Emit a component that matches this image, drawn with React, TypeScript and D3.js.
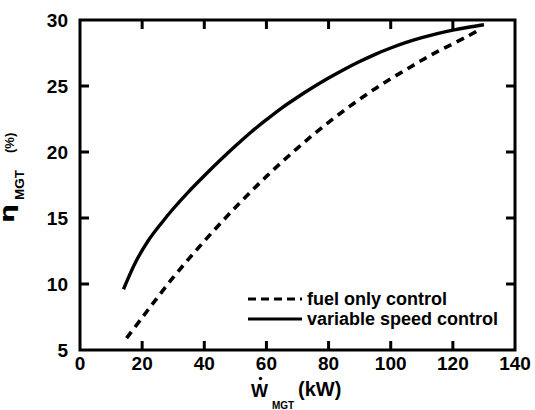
import React from "react";
import * as d3 from "d3";

const xTicks = [0, 20, 40, 60, 80, 100, 120, 140];
const yTicks = [5, 10, 15, 20, 25, 30];

const fuelX = [15, 20, 25, 30, 35, 40, 45, 50, 55, 60, 65, 70, 75, 80, 85, 90, 95, 100, 105, 110, 115, 120, 125, 128];
const fuelY = [5.9, 7.45, 9.0, 10.5, 11.9, 13.25, 14.55, 15.8, 17.0, 18.15, 19.25, 20.3, 21.3, 22.25, 23.15, 24.0, 24.8, 25.55, 26.25, 26.95, 27.6, 28.2, 28.8, 29.2];

const speedX = [14, 18, 22, 26, 30, 35, 40, 45, 50, 55, 60, 65, 70, 75, 80, 85, 90, 95, 100, 105, 110, 115, 120, 125, 130];
const speedY = [9.6, 11.7, 13.3, 14.55, 15.7, 17.0, 18.2, 19.35, 20.45, 21.5, 22.45, 23.35, 24.15, 24.9, 25.6, 26.25, 26.85, 27.4, 27.88, 28.3, 28.66, 28.97, 29.23, 29.45, 29.64];

const legendLabels = ["fuel only control", "variable speed control"];

const W = 535, H = 410;
const L = 80, R = 515, T = 20, B = 350;

export default function App() {
  const x = d3.scaleLinear().domain([0, 140]).range([L, R]);
  const y = d3.scaleLinear().domain([5, 30]).range([B, T]);
  const line = d3
    .line<[number, number]>()
    .x((d) => x(d[0]))
    .y((d) => y(d[1]))
    .curve(d3.curveCatmullRom);
  const fuel = fuelX.map((v, i) => [v, fuelY[i]] as [number, number]);
  const speed = speedX.map((v, i) => [v, speedY[i]] as [number, number]);
  const tl = 9;
  const font = "'Liberation Sans', Arial, sans-serif";
  return (
    <svg
      width={W}
      height={H}
      style={{ position: "absolute", left: 0, top: 0, background: "#fff" }}
      fontFamily={font}
    >
      <rect x={0} y={0} width={W} height={H} fill="#fff" />
      {/* curves */}
      <path d={line(speed) || ""} fill="none" stroke="#000" strokeWidth={3.4} />
      <path
        d={line(fuel) || ""}
        fill="none"
        stroke="#000"
        strokeWidth={3.6}
        strokeDasharray="8,6"
      />
      {/* frame */}
      <rect x={L} y={T} width={R - L} height={B - T} fill="none" stroke="#000" strokeWidth={3} />
      {/* ticks */}
      {xTicks.slice(1, -1).map((t) => (
        <g key={"xt" + t}>
          <line x1={x(t)} x2={x(t)} y1={B} y2={B - tl} stroke="#000" strokeWidth={3} />
          <line x1={x(t)} x2={x(t)} y1={T} y2={T + tl} stroke="#000" strokeWidth={3} />
        </g>
      ))}
      {yTicks.slice(1, -1).map((t) => (
        <g key={"yt" + t}>
          <line x1={L} x2={L + tl} y1={y(t)} y2={y(t)} stroke="#000" strokeWidth={3} />
          <line x1={R} x2={R - tl} y1={y(t)} y2={y(t)} stroke="#000" strokeWidth={3} />
        </g>
      ))}
      {/* tick labels */}
      {xTicks.map((t) => (
        <text key={"xl" + t} x={x(t)} y={370} textAnchor="middle" fontSize={19} fontWeight="bold">
          {t}
        </text>
      ))}
      {yTicks.map((t) => (
        <text key={"yl" + t} x={68} y={y(t) + 7} textAnchor="end" fontSize={19} fontWeight="bold">
          {t}
        </text>
      ))}
      {/* legend */}
      <line x1={248} x2={302} y1={299} y2={299} stroke="#000" strokeWidth={3} strokeDasharray="8,5" />
      <line x1={248} x2={302} y1={319} y2={319} stroke="#000" strokeWidth={3} />
      <text x={307} y={305} fontSize={18} fontWeight="bold">{legendLabels[0]}</text>
      <text x={307} y={325} fontSize={18} fontWeight="bold">{legendLabels[1]}</text>
      {/* x label */}
      <text x={251} y={397} fontSize={18} fontWeight="bold">W</text>
      <circle cx={260.5} cy={378.5} r={1.7} fill="#000" />
      <text x={272} y={409} fontSize={10} fontWeight="bold">MGT</text>
      <text x={298} y={396} fontSize={20} fontWeight="bold">(kW)</text>
      {/* y label */}
      <g transform="translate(14,223) rotate(-90)">
        <text x={0} y={0} fontSize={19} fontWeight="bold" fontFamily="'DejaVu Sans', sans-serif"
          textLength={19} lengthAdjust="spacingAndGlyphs">η</text>
        <text x={23} y={10} fontSize={12} fontWeight="bold" textLength={30} lengthAdjust="spacingAndGlyphs">MGT</text>
        <text x={70} y={0} fontSize={13} fontWeight="bold">(%)</text>
      </g>
    </svg>
  );
}
